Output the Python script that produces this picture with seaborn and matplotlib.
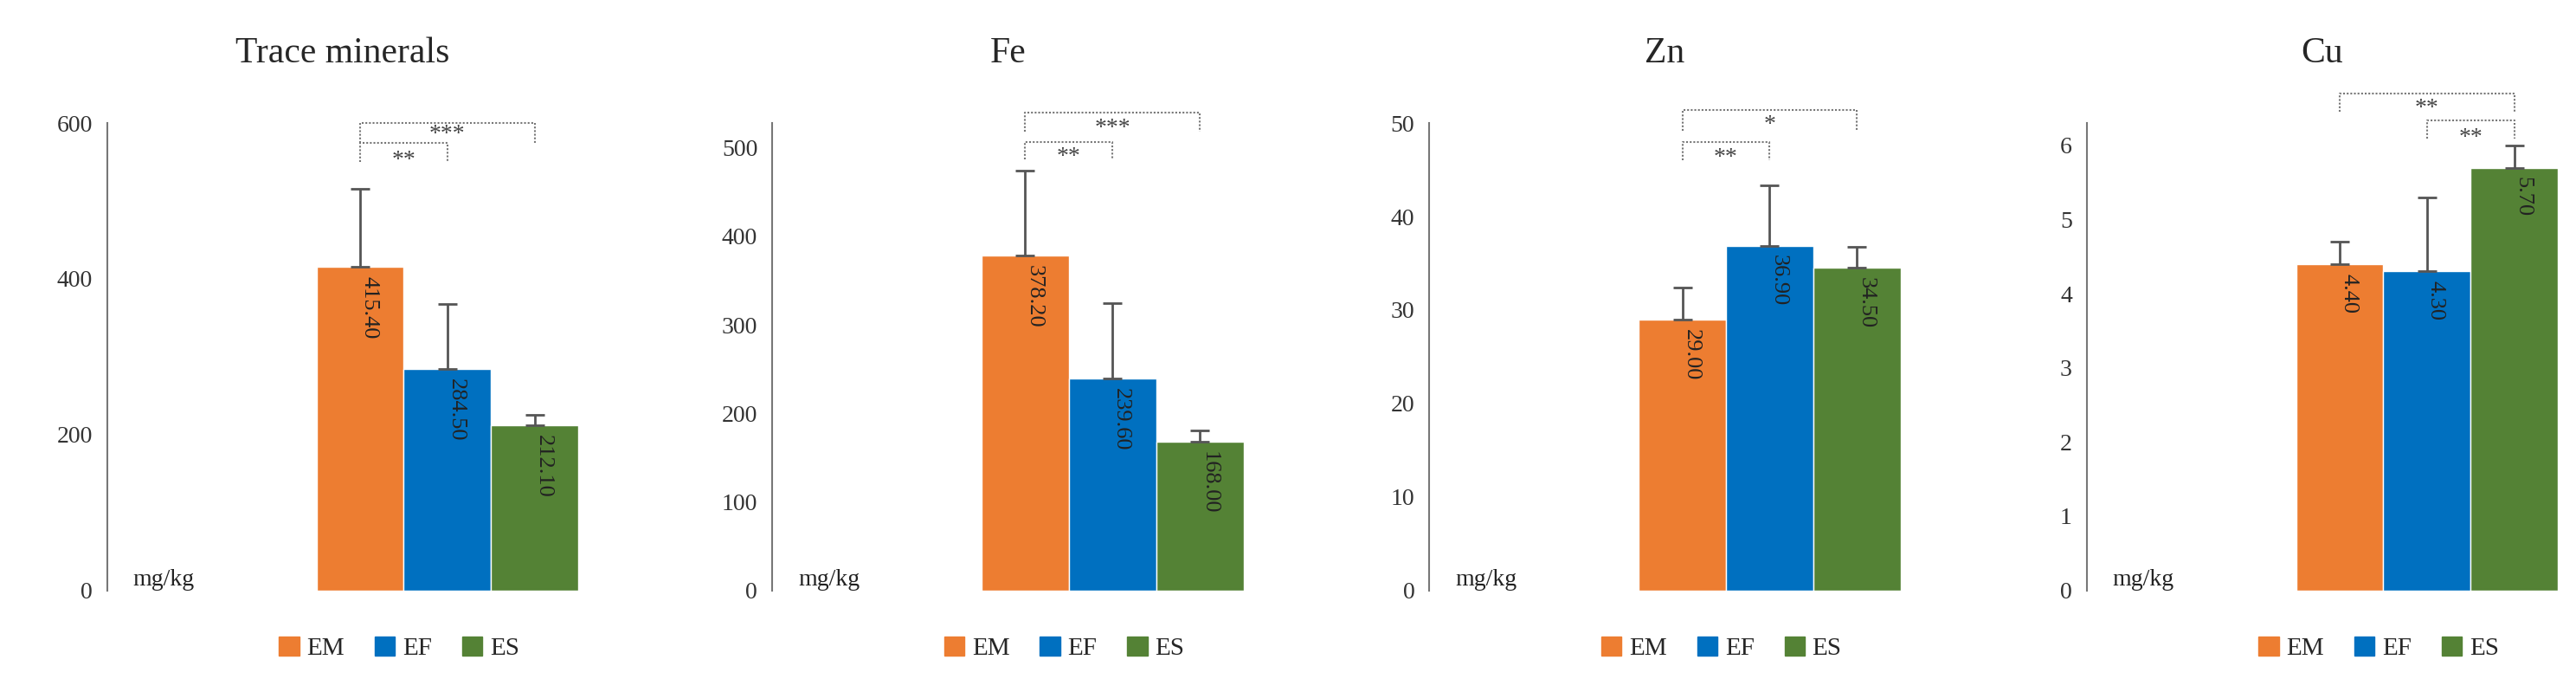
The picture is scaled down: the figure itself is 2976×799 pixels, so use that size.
import numpy as np
import pandas as pd
import seaborn as sns
import matplotlib.pyplot as plt

sns.set_style("white")
plt.rcParams['font.family'] = ['Liberation Serif', 'DejaVu Serif']

groups = ["EM", "EF", "ES"]
colors = ["#ED7D31", "#0070C0", "#548235"]
titles = ["Trace minerals", "Fe", "Zn", "Cu"]

means = {
    "Trace minerals": [415.4, 284.5, 212.1],
    "Fe": [378.2, 239.6, 168.0],
    "Zn": [29.0, 36.9, 34.5],
    "Cu": [4.4, 4.3, 5.7],
}
errs = {
    "Trace minerals": [100, 83, 13],
    "Fe": [96, 85, 13],
    "Zn": [3.4, 6.4, 2.3],
    "Cu": [0.3, 1.0, 0.3],
}
ylims = {"Trace minerals": 600, "Fe": 528, "Zn": 50, "Cu": 6.3}
yticks = {
    "Trace minerals": [0, 200, 400, 600],
    "Fe": [0, 100, 200, 300, 400, 500],
    "Zn": [0, 10, 20, 30, 40, 50],
    "Cu": [0, 1, 2, 3, 4, 5, 6],
}
# brackets: (i, j, height, drop, star_y, stars)
brackets = {
    "Trace minerals": [(0, 1, 575, 25, 552, "**"), (0, 2, 600, 25, 585, "***")],
    "Fe": [(0, 1, 507, 20, 490, "**"), (0, 2, 540, 22, 522, "***")],
    "Zn": [(0, 1, 48, 2, 46.3, "**"), (0, 2, 51.4, 2.2, 49.8, "*")],
    "Cu": [(1, 2, 6.34, 0.25, 6.1, "**"), (0, 2, 6.7, 0.25, 6.5, "**")],
}

fig = plt.figure(figsize=(29.76, 7.99), dpi=100)
lefts = [0.0415, 0.2997, 0.5548, 0.81]

for left, t in zip(lefts, titles):
    ax = fig.add_axes([left, 0.147, 0.183, 0.675])
    df = pd.DataFrame({"group": groups, "value": means[t]})
    sns.barplot(data=df, x="group", y="value", hue="group", palette=colors,
                width=1.0, legend=False, ax=ax, saturation=1)
    ax.errorbar(range(3), means[t], yerr=[np.zeros(3), errs[t]], fmt="none",
                ecolor="#555555", elinewidth=2, capsize=8, capthick=2)
    for i, v in enumerate(means[t]):
        ax.text(i + 0.1, v - ylims[t] * 0.02, f"{v:.2f}", rotation=-90,
                ha="center", va="top", fontsize=19, color="#222222")
    for i, j, h, d, sy, s in brackets[t]:
        ax.plot([i, i, j, j], [h - d, h, h, h - d], ls=(0, (1, 1)),
                color="#777777", lw=1.5, clip_on=False)
        ax.text((i + j) / 2, sy, s, ha="center", va="center", fontsize=20,
                color="#444444", clip_on=False)
    ax.set_xlim(-2.9, 2.5)
    ax.set_ylim(0, ylims[t])
    ax.set_yticks(yticks[t])
    ax.set_xticks([])
    ax.set_xlabel("")
    ax.set_ylabel("")
    ax.tick_params(axis="y", direction="in", length=8, width=1.5,
                   colors="#777777", labelcolor="#333333", labelsize=20, pad=12)
    sns.despine(ax=ax, bottom=True, right=True, top=True)
    ax.spines["left"].set_color("#777777")
    ax.spines["left"].set_linewidth(1.5)
    ax.set_title(t, fontsize=30, pad=0, y=1.13)
    ax.text(-2.6, 0, "mg/kg", fontsize=20, va="bottom", ha="left", color="#222222")
    handles = [plt.Rectangle((0, 0), 1, 1, color=c) for c in colors]
    ax.legend(handles, groups, loc="upper center", bbox_to_anchor=(0.62, -0.05),
              ncol=3, frameon=False, fontsize=21, handlelength=0.8,
              handleheight=0.8, columnspacing=1.2, handletextpad=0.3)

fig.savefig("out.png", dpi=100)
